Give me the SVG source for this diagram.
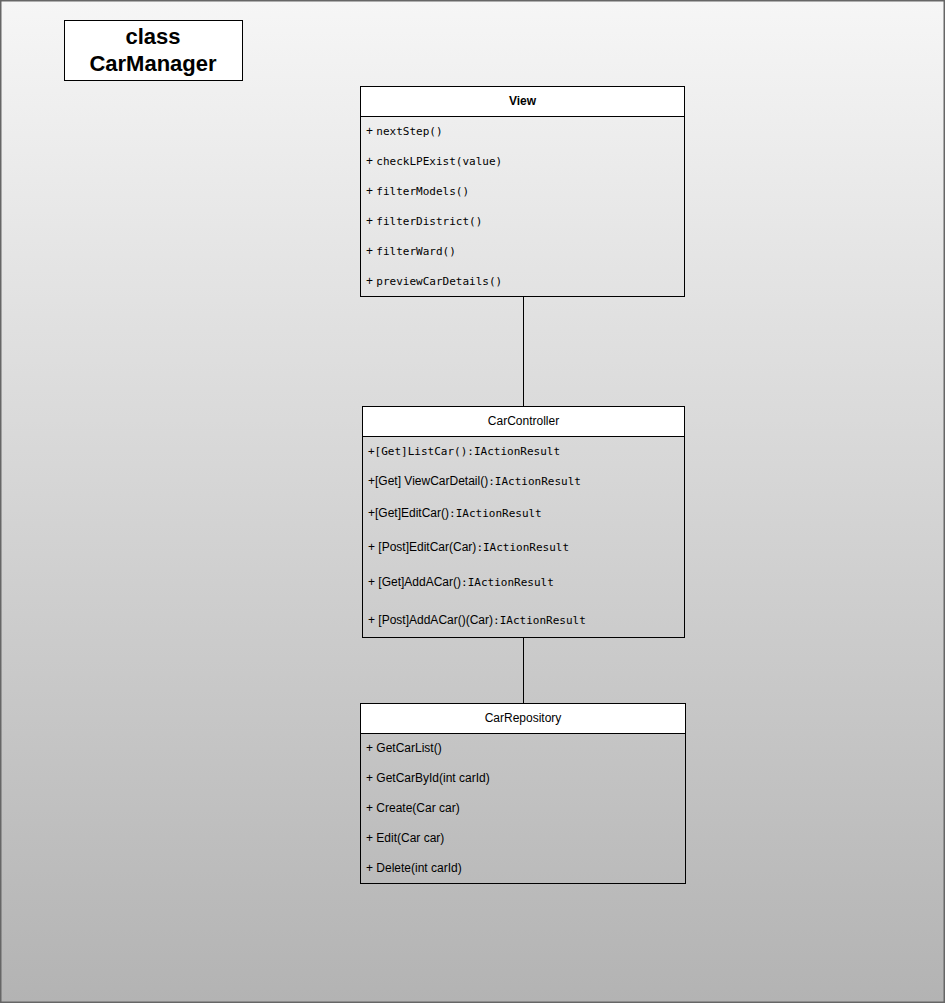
<svg xmlns="http://www.w3.org/2000/svg" width="945" height="1003" viewBox="0 0 945 1003">
  <defs>
    <linearGradient id="bg" x1="0" y1="0" x2="0" y2="1">
      <stop offset="0" stop-color="#f6f6f6"/>
      <stop offset="1" stop-color="#b3b3b3"/>
    </linearGradient>
    <style>
      .frame { fill: url(#bg); stroke: #666666; stroke-width: 1.5; }
      .head { fill: #ffffff; stroke: #000000; stroke-width: 1; }
      .body { fill: none; stroke: #000000; stroke-width: 1; }
      .title { font-family: "Liberation Sans", Arial, sans-serif; font-size: 22px; font-weight: bold; fill: #000; text-anchor: middle; }
      .cname { font-family: "Liberation Sans", Arial, sans-serif; font-size: 12px; fill: #000; text-anchor: middle; }
      .bold { font-weight: bold; }
      .sans { font-family: "Liberation Sans", Arial, sans-serif; font-size: 12px; fill: #000; }
      .mono { font-family: "DejaVu Sans Mono", "Liberation Mono", monospace; font-size: 11px; fill: #000; }
      .edge { stroke: #000000; stroke-width: 1; fill: none; }
    </style>
  </defs>

  <!-- page background -->
  <rect class="frame" x="0.75" y="0.75" width="943.5" height="1001.5"/>

  <!-- diagram title -->
  <g id="title">
    <rect class="head" x="64.5" y="20.5" width="178" height="60"/>
    <text class="title" x="153" y="44">class</text>
    <text class="title" x="153" y="71">CarManager</text>
  </g>

  <!-- associations -->
  <g id="connectors">
    <line class="edge" x1="523.5" y1="296" x2="523.5" y2="406"/>
    <line class="edge" x1="523.5" y1="638" x2="523.5" y2="703"/>
  </g>

  <!-- View -->
  <g id="view">
    <rect class="body" x="360.5" y="86.5" width="324" height="210"/>
    <rect class="head" x="360.5" y="86.5" width="324" height="30"/>
    <text class="cname bold" x="522.5" y="105">View</text>
    <text class="sans" x="366" y="135">+ <tspan class="mono">nextStep()</tspan></text>
    <text class="sans" x="366" y="165">+ <tspan class="mono">checkLPExist(value)</tspan></text>
    <text class="sans" x="366" y="195">+ <tspan class="mono">filterModels()</tspan></text>
    <text class="sans" x="366" y="225">+ <tspan class="mono">filterDistrict()</tspan></text>
    <text class="sans" x="366" y="255">+ <tspan class="mono">filterWard()</tspan></text>
    <text class="sans" x="366" y="285">+ <tspan class="mono">previewCarDetails()</tspan></text>
  </g>

  <!-- CarController -->
  <g id="carcontroller">
    <rect class="body" x="362.5" y="406.5" width="322" height="231"/>
    <rect class="head" x="362.5" y="406.5" width="322" height="30"/>
    <text class="cname" x="523.5" y="425">CarController</text>
    <text class="mono" x="368" y="455">+[Get]ListCar():IActionResult</text>
    <text class="sans" x="368" y="485">+[Get] ViewCarDetail()<tspan class="mono">:IActionResult</tspan></text>
    <text class="sans" x="368" y="517">+[Get]EditCar()<tspan class="mono">:IActionResult</tspan></text>
    <text class="sans" x="368" y="551">+ [Post]EditCar(Car)<tspan class="mono">:IActionResult</tspan></text>
    <text class="sans" x="368" y="586">+ [Get]AddACar()<tspan class="mono">:IActionResult</tspan></text>
    <text class="sans" x="368" y="624">+ [Post]AddACar()(Car)<tspan class="mono">:IActionResult</tspan></text>
  </g>

  <!-- CarRepository -->
  <g id="carrepository">
    <rect class="body" x="360.5" y="703.5" width="325" height="180"/>
    <rect class="head" x="360.5" y="703.5" width="325" height="30"/>
    <text class="cname" x="523" y="722">CarRepository</text>
    <text class="sans" x="366" y="752">+ GetCarList()</text>
    <text class="sans" x="366" y="782">+ GetCarById(int carId)</text>
    <text class="sans" x="366" y="812">+ Create(Car car)</text>
    <text class="sans" x="366" y="842">+ Edit(Car car)</text>
    <text class="sans" x="366" y="872">+ Delete(int carId)</text>
  </g>
</svg>
